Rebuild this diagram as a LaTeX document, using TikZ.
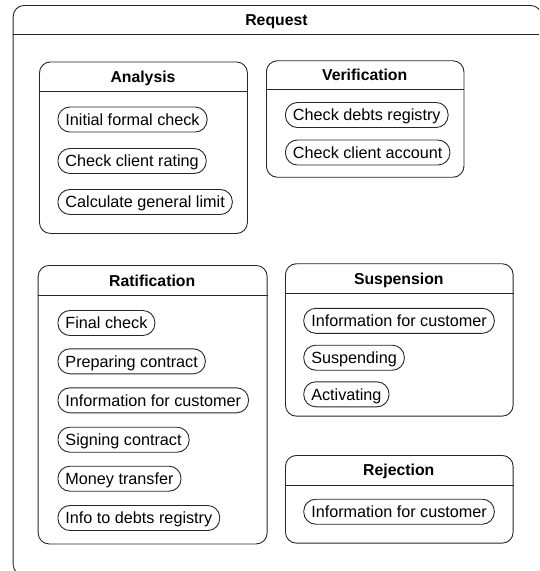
\documentclass[tikz,border=0pt]{standalone}
\usepackage{fontspec}
\setmainfont{Liberation Sans}
\begin{document}
\begin{tikzpicture}[x=1pt,y=-1pt,
  lw/.style={line width=0.9pt, draw=black!85},
  cbox/.style={lw, rounded corners=11pt, anchor=north west, inner sep=0pt},
  ttl/.style={font=\fontsize{15.8}{18}\selectfont\bfseries, inner sep=0pt, text height=11.4pt, text depth=0pt},
  pill/.style={lw, rounded corners=12pt, anchor=west, minimum height=25pt,
    inner xsep=7.5pt, inner ysep=0pt, text height=11.6pt, text depth=0.2pt,
    font=\fontsize{16.2}{18}\selectfont}]
\clip (0,0) rectangle (539,571);
% outer Request box
\node[cbox, minimum width=528.5pt, minimum height=570pt] (req) at (12.7,5) {};
\node[ttl] (reqt) at (276.5,20) {Request};
\draw[lw] ([yshift=-29.3pt]req.north west) -- ([yshift=-29.3pt]req.north east);
% Analysis
\node[cbox, minimum width=208pt, minimum height=171.5pt] (ana) at (39,61.5) {};
\node[ttl] (anat) at (143,77) {Analysis};
\draw[lw] ([yshift=-29.5pt]ana.north west) -- ([yshift=-29.5pt]ana.north east);
\node[pill] (a1) at (57.5,119.5) {Initial formal check};
\node[pill] (a2) at (57.5,161) {Check client rating};
\node[pill] (a3) at (57.5,202) {Calculate general limit};
% Verification
\node[cbox, minimum width=197.5pt, minimum height=116.5pt] (ver) at (266,60.3) {};
\node[ttl] (vert) at (364.7,74.5) {Verification};
\draw[lw] ([yshift=-29pt]ver.north west) -- ([yshift=-29pt]ver.north east);
\node[pill] (v1) at (285,115) {Check debts registry};
\node[pill] (v2) at (285,152.5) {Check client account};
% Ratification
\node[cbox, minimum width=229pt, minimum height=278.5pt] (rat) at (37.7,265) {};
\node[ttl] (ratt) at (152.2,280.3) {Ratification};
\draw[lw] ([yshift=-30.5pt]rat.north west) -- ([yshift=-30.5pt]rat.north east);
\node[pill] (r1) at (57.5,323) {Final check};
\node[pill] (r2) at (57.5,361.3) {Preparing contract};
\node[pill] (r3) at (57.5,400.3) {Information for customer};
\node[pill] (r4) at (57.5,439.7) {Signing contract};
\node[pill] (r5) at (57.5,478.7) {Money transfer};
\node[pill] (r6) at (57.5,518) {Info to debts registry};
% Suspension
\node[cbox, minimum width=227.7pt, minimum height=152.4pt] (sus) at (285,263.3) {};
\node[ttl] (sust) at (398.8,279) {Suspension};
\draw[lw] ([yshift=-30.4pt]sus.north west) -- ([yshift=-30.4pt]sus.north east);
\node[pill] (s1) at (303.3,320.8) {Information for customer};
\node[pill] (s2) at (303.3,357.7) {Suspending};
\node[pill] (s3) at (303.3,394.3) {Activating};
% Rejection
\node[cbox, minimum width=227.7pt, minimum height=87.7pt] (rej) at (285,455) {};
\node[ttl] (rejt) at (398.8,470) {Rejection};
\draw[lw] ([yshift=-30pt]rej.north west) -- ([yshift=-30pt]rej.north east);
\node[pill] (j1) at (303.3,511.7) {Information for customer};
\end{tikzpicture}
\end{document}
